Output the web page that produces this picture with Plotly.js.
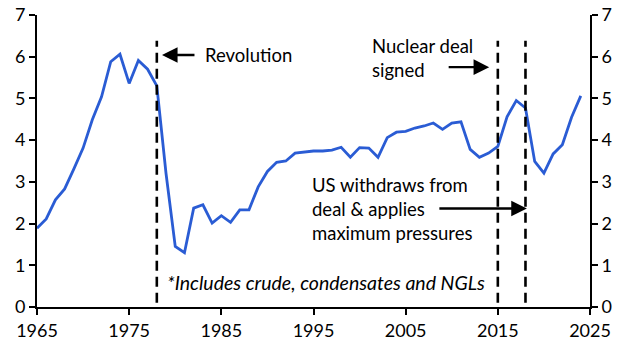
<!DOCTYPE html>
<html>
<head>
<meta charset="utf-8">
<script src="https://cdn.plot.ly/plotly-3.0.1.min.js"></script>
<style>html,body{margin:0;padding:0;background:#fff;}#chart{width:630px;height:355px;}</style>
</head>
<body>
<div id="chart"></div>
<script>
// Iran oil production*, mb/d
const years = [1965,1966,1967,1968,1969,1970,1971,1972,1973,1974,1975,1976,1977,1978,1979,1980,1981,1982,1983,1984,1985,1986,1987,1988,1989,1990,1991,1992,1993,1994,1995,1996,1997,1998,1999,2000,2001,2002,2003,2004,2005,2006,2007,2008,2009,2010,2011,2012,2013,2014,2015,2016,2017,2018,2019,2020,2021,2022,2023,2024];
const production = [1.89,2.11,2.57,2.83,3.31,3.81,4.49,5.04,5.88,6.06,5.36,5.91,5.70,5.30,3.20,1.45,1.30,2.37,2.45,2.01,2.19,2.03,2.33,2.33,2.88,3.25,3.47,3.50,3.69,3.71,3.74,3.74,3.76,3.83,3.59,3.82,3.81,3.59,4.06,4.19,4.21,4.29,4.34,4.41,4.26,4.41,4.44,3.78,3.59,3.69,3.85,4.56,4.95,4.77,3.49,3.21,3.67,3.89,4.55,5.06];
const eventYears = [1978, 2015, 2018];
const xTicks = [1965,1975,1985,1995,2005,2015,2025];
const yTicks = [0,1,2,3,4,5,6,7];

const FONT = 'Lato, "Open Sans", sans-serif';

const traces = [
  {x: years, y: production, type: 'scatter', mode: 'lines',
   line: {color: '#2a5cd4', width: 2.8}, hoverinfo: 'skip', showlegend: false},
  {x: [years[0]], y: [0], yaxis: 'y2', type: 'scatter', mode: 'markers',
   marker: {opacity: 0}, hoverinfo: 'skip', showlegend: false}
];

const shapes = eventYears.map(yr => ({
  type: 'line', xref: 'x', yref: 'y', x0: yr, x1: yr, y0: 0.1, y1: 6.38,
  line: {color: '#000', width: 2.6, dash: '10px,6px'}
}));

const txt = {family: FONT, size: 18.5, color: '#000'};
const annotations = [
  {x: 1983.0, y: 6.04, xref: 'x', yref: 'y', text: 'Revolution', showarrow: false,
   xanchor: 'left', yanchor: 'middle', align: 'left', font: txt},
  {x: 2001.1, y: 5.98, xref: 'x', yref: 'y', text: 'Nuclear deal<br>signed', showarrow: false,
   xanchor: 'left', yanchor: 'middle', align: 'left', font: txt},
  {x: 1994.6, y: 2.36, xref: 'x', yref: 'y', text: 'US withdraws from<br>deal &amp; applies<br>maximum pressures', showarrow: false,
   xanchor: 'left', yanchor: 'middle', align: 'left', font: txt},
  {x: 1978.9, y: 0.59, xref: 'x', yref: 'y', text: '<i>*Includes crude, condensates and NGLs</i>', showarrow: false,
   xanchor: 'left', yanchor: 'middle', align: 'left', font: {family: FONT, size: 19.5, color: '#000'}},
  // arrows
  {x: 1978.56, y: 6.04, xref: 'x', yref: 'y', text: '', showarrow: true, ax: 34, ay: 0,
   arrowhead: 2, arrowsize: 1.3, arrowwidth: 2.4, arrowcolor: '#000', standoff: 0},
  {x: 2014.06, y: 5.75, xref: 'x', yref: 'y', text: '', showarrow: true, ax: -42, ay: 0,
   arrowhead: 2, arrowsize: 1.3, arrowwidth: 2.4, arrowcolor: '#000', standoff: 0},
  {x: 2018.15, y: 2.36, xref: 'x', yref: 'y', text: '', showarrow: true, ax: -89, ay: 0,
   arrowhead: 2, arrowsize: 1.3, arrowwidth: 2.4, arrowcolor: '#000', standoff: 0}
];

const axisCommon = {
  showgrid: false, zeroline: false, showline: true, linecolor: '#000', linewidth: 2,
  ticks: 'outside', ticklen: 6, tickwidth: 2, tickcolor: '#000',
  tickfont: {family: FONT, size: 18, color: '#000'}, fixedrange: true
};

const layout = {
  width: 630, height: 355,
  margin: {l: 37, r: 40, t: 15, b: 48, pad: 0},
  paper_bgcolor: '#fff', plot_bgcolor: '#fff',
  showlegend: false,
  xaxis: Object.assign({}, axisCommon, {range: [1965, 2025], tickvals: xTicks, ticktext: xTicks.map(String)}),
  yaxis: Object.assign({}, axisCommon, {range: [0, 7], tickvals: yTicks, ticktext: yTicks.map(String)}),
  yaxis2: Object.assign({}, axisCommon, {range: [0, 7], tickvals: yTicks, ticktext: yTicks.map(String),
    overlaying: 'y', side: 'right'}),
  shapes: shapes,
  annotations: annotations
};

Plotly.newPlot('chart', traces, layout, {staticPlot: true, displayModeBar: false});
</script>
</body>
</html>
